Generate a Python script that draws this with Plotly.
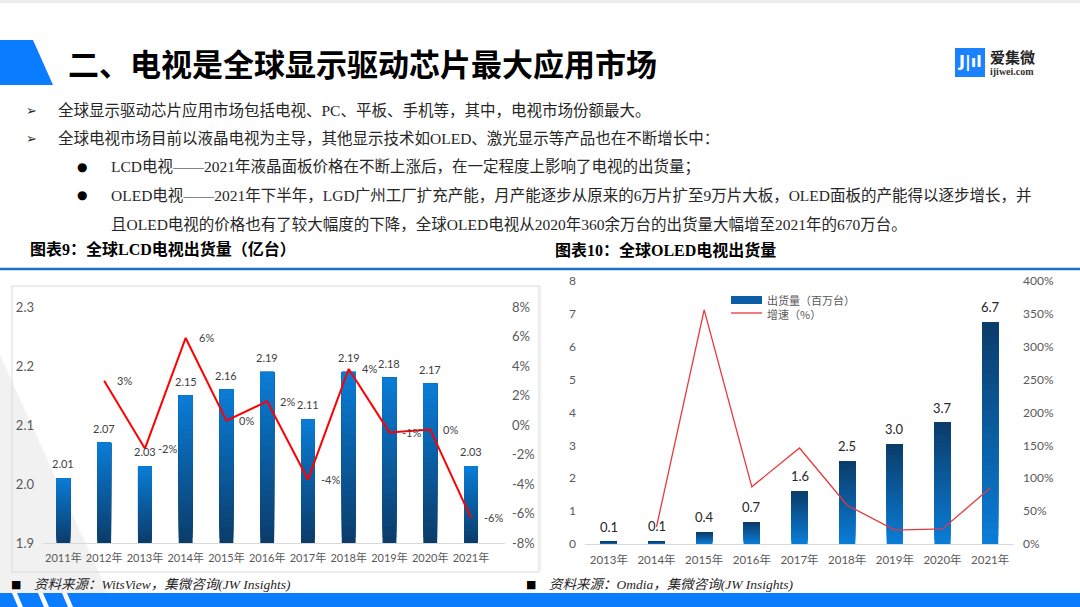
import plotly.graph_objects as go

W, H = 1080, 607

# ---- data: global LCD TV shipments (100M units) ----
lcd_years = ["2011年", "2012年", "2013年", "2014年", "2015年", "2016年",
             "2017年", "2018年", "2019年", "2020年", "2021年"]
lcd_shipments = [2.01, 2.07, 2.03, 2.15, 2.16, 2.19, 2.11, 2.19, 2.18, 2.17, 2.03]
lcd_growth = [None, 3.0, -1.6, 5.9, 0.3, 1.6, -3.7, 3.8, -0.5, -0.3, -6.3]
lcd_growth_labels = ["", "3%", "-2%", "6%", "0%", "2%", "-4%", "4%", "-1%", "0%", "-6%"]
lcd_left_ticks = [1.9, 2.0, 2.1, 2.2, 2.3]
lcd_right_ticks = [-8, -6, -4, -2, 0, 2, 4, 6, 8]

# ---- data: global OLED TV shipments (M units) ----
oled_years = ["2013年", "2014年", "2015年", "2016年", "2017年",
              "2018年", "2019年", "2020年", "2021年"]
oled_shipments = [0.07, 0.08, 0.36, 0.66, 1.61, 2.52, 3.03, 3.69, 6.74]
oled_growth = [None, 26, 356, 87, 146, 59, 21, 23, 85]
oled_left_ticks = [0, 1, 2, 3, 4, 5, 6, 7, 8]
oled_right_ticks = [0, 50, 100, 150, 200, 250, 300, 350, 400]

bullets = [
    "全球显示驱动芯片应用市场包括电视、PC、平板、手机等，其中，电视市场份额最大。",
    "全球电视市场目前以液晶电视为主导，其他显示技术如OLED、激光显示等产品也在不断增长中：",
]
sub_bullets = [
    "LCD电视——2021年液晶面板价格在不断上涨后，在一定程度上影响了电视的出货量；",
    "OLED电视——2021年下半年，LGD广州工厂扩充产能，月产能逐步从原来的6万片扩至9万片大板，OLED面板的产能得以逐步增长，并",
    "且OLED电视的价格也有了较大幅度的下降，全球OLED电视从2020年360余万台的出货量大幅增至2021年的670万台。",
]

BODY_FONT = "Liberation Serif, Noto Sans CJK SC"
CJK = "Noto Sans CJK SC"
CHART_FONT = "Lato, Noto Sans CJK SC"


def px(x):
    return x / W


def py(y):
    return 1 - y / H


def mix(c1, c2, t):
    a = [int(c1[i:i + 2], 16) for i in (1, 3, 5)]
    b = [int(c2[i:i + 2], 16) for i in (1, 3, 5)]
    return "#" + "".join(f"{round(a[i] + (b[i] - a[i]) * t):02x}" for i in range(3))


def gradient_bars(fig, x, values, base, bottom, top, xa, ya, steps=30):
    # full-height bars stacked on top of each other, each one shorter -> vertical gradient
    for k in range(steps):
        t = k / (steps - 1)
        seg = [(v - base) / steps for v in values]
        fig.add_trace(go.Bar(
            x=x,
            y=[(v - base) - s * k for v, s in zip(values, seg)],
            base=[base + s * k for s in seg],
            width=0.34,
            marker=dict(color=mix(bottom, top, t), line=dict(width=0), opacity=1),
            xaxis=xa, yaxis=ya, showlegend=False, hoverinfo="skip",
        ))


fig = go.Figure()

# left chart: LCD
gradient_bars(fig, lcd_years, lcd_shipments, 1.9, "#0b3d6b", "#0a7cd6", "x", "y")
fig.add_trace(go.Scatter(
    x=lcd_years, y=lcd_growth, mode="lines",
    line=dict(color="#ff0000", width=2),
    xaxis="x", yaxis="y2", showlegend=False, hoverinfo="skip",
))

# right chart: OLED
gradient_bars(fig, oled_years, oled_shipments, 0, "#0a7cd6", "#0b3d6b", "x3", "y3")
fig.add_trace(go.Scatter(
    x=oled_years, y=oled_growth, mode="lines",
    line=dict(color="#e8383d", width=1.3),
    xaxis="x3", yaxis="y4", showlegend=False, hoverinfo="skip",
))

annotations = []

# title
annotations.append(dict(
    x=px(66), y=py(62), xref="paper", yref="paper", xanchor="left", yanchor="middle",
    text="<b>二、电视是全球显示驱动芯片最大应用市场</b>", showarrow=False,
    font=dict(family=CJK, size=31, color="#000000"),
))
# logo text
annotations.append(dict(
    x=px(988), y=py(57), xref="paper", yref="paper", xanchor="left", yanchor="middle",
    text="<b>爱集微</b>", showarrow=False,
    font=dict(family="Noto Sans CJK SC", size=15, color="#222222"),
))
annotations.append(dict(
    x=px(988), y=py(72), xref="paper", yref="paper", xanchor="left", yanchor="middle",
    text="<b>ijiwei.com</b>", showarrow=False,
    font=dict(family="Liberation Serif", size=10, color="#333333"),
))
annotations.append(dict(
    x=px(970), y=py(62), xref="paper", yref="paper", xanchor="center", yanchor="middle",
    text="<b>J|ıl</b>", showarrow=False,
    font=dict(family="DejaVu Sans", size=16, color="#ffffff"),
))

# body text
for i, line in enumerate(bullets):
    yy = 110 + i * 28.5
    annotations.append(dict(x=px(24), y=py(yy), xref="paper", yref="paper",
                            xanchor="left", yanchor="middle", text="➢", showarrow=False,
                            font=dict(family="DejaVu Sans", size=13, color="#262626")))
    annotations.append(dict(x=px(56), y=py(yy), xref="paper", yref="paper",
                            xanchor="left", yanchor="middle", text=line, showarrow=False,
                            font=dict(family=BODY_FONT, size=15.5, color="#262626")))
for i, line in enumerate(sub_bullets):
    yy = 167 + i * 28.5
    if i < 2:
        annotations.append(dict(x=px(82), y=py(yy), xref="paper", yref="paper",
                                xanchor="center", yanchor="middle", text="●", showarrow=False,
                                font=dict(family="DejaVu Sans", size=12, color="#000000")))
    annotations.append(dict(x=px(109), y=py(yy), xref="paper", yref="paper",
                            xanchor="left", yanchor="middle", text=line, showarrow=False,
                            font=dict(family=BODY_FONT, size=15.5, color="#262626")))

# chart headers
annotations.append(dict(x=px(28), y=py(249), xref="paper", yref="paper",
                        xanchor="left", yanchor="middle",
                        text="<b>图表9：全球LCD电视出货量（亿台）</b>", showarrow=False,
                        font=dict(family=BODY_FONT, size=16, color="#000000")))
annotations.append(dict(x=px(553), y=py(250), xref="paper", yref="paper",
                        xanchor="left", yanchor="middle",
                        text="<b>图表10：全球OLED电视出货量</b>", showarrow=False,
                        font=dict(family=BODY_FONT, size=16, color="#000000")))

# LCD bar labels
for yr, v in zip(lcd_years, lcd_shipments):
    annotations.append(dict(x=yr, y=v, xref="x", yref="y", xanchor="center", yanchor="bottom",
                            yshift=6, text=f"{v:.2f}", showarrow=False,
                            font=dict(family=CHART_FONT, size=11, color="#404040")))
# LCD growth labels
for yr, g, lab in zip(lcd_years, lcd_growth, lcd_growth_labels):
    if g is None:
        continue
    annotations.append(dict(x=yr, y=g, xref="x", yref="y2", xanchor="left", yanchor="middle",
                            xshift=11, text=lab, showarrow=False,
                            font=dict(family=CHART_FONT, size=11, color="#404040")))
# OLED bar labels
for yr, v in zip(oled_years, oled_shipments):
    annotations.append(dict(x=yr, y=v, xref="x3", yref="y3", xanchor="center", yanchor="bottom",
                            yshift=5, text=f"{v:.1f}", showarrow=False,
                            font=dict(family=CHART_FONT, size=13, color="#262626")))

# OLED legend text (two lines in one block)
annotations.append(dict(x=px(765), y=py(306.5), xref="paper", yref="paper",
                        xanchor="left", yanchor="middle", align="left",
                        text="出货量（百万台）<br>增速（%）", showarrow=False,
                        font=dict(family=CJK, size=11, color="#595959")))

# footers
annotations.append(dict(x=px(16), y=py(584), xref="paper", yref="paper",
                        xanchor="center", yanchor="middle", text="■", showarrow=False,
                        font=dict(family="DejaVu Sans", size=11, color="#000000")))
annotations.append(dict(x=px(32), y=py(584), xref="paper", yref="paper",
                        xanchor="left", yanchor="middle",
                        text="<i>资料来源：WitsView，集微咨询(JW Insights)</i>", showarrow=False,
                        font=dict(family=BODY_FONT, size=13.5, color="#262626")))
annotations.append(dict(x=px(531), y=py(584), xref="paper", yref="paper",
                        xanchor="center", yanchor="middle", text="■", showarrow=False,
                        font=dict(family="DejaVu Sans", size=11, color="#000000")))
annotations.append(dict(x=px(547), y=py(584), xref="paper", yref="paper",
                        xanchor="left", yanchor="middle",
                        text="<i>资料来源：Omdia，集微咨询(JW Insights)</i>", showarrow=False,
                        font=dict(family=BODY_FONT, size=13.5, color="#262626")))

shapes = [
    # top thin grey strip
    dict(type="rect", xref="paper", yref="paper", x0=0, x1=1, y0=py(3), y1=1,
         fillcolor="#ededed", line=dict(width=0), layer="below"),
    # blue title tab
    dict(type="path", xref="paper", yref="paper",
         path=f"M 0 {py(40)} L {px(33)} {py(40)} L {px(53)} {py(85)} L 0 {py(85)} Z",
         fillcolor="#0a7cff", line=dict(width=0)),
    # logo square
    dict(type="rect", xref="paper", yref="paper", x0=px(955), x1=px(985), y0=py(77), y1=py(48),
         fillcolor="#1a82ff", line=dict(width=0), layer="below"),
    # separator line
    dict(type="line", xref="paper", yref="paper", x0=0, x1=1, y0=py(269), y1=py(269),
         line=dict(color="#1b6fc6", width=2.5)),
    # grey wedge behind left chart
    dict(type="path", xref="paper", yref="paper",
         path=f"M 0 {py(355)} L {px(108)} {py(593)} L 0 {py(593)} Z",
         fillcolor="#f1f1f1", line=dict(width=0), layer="below"),
    # left chart frame
    dict(type="rect", xref="paper", yref="paper", x0=px(12), x1=px(539), y0=py(572), y1=py(286),
         fillcolor="rgba(0,0,0,0)", line=dict(color="#d9d9d9", width=1), layer="below"),
    # right chart faint left edge
    dict(type="line", xref="paper", yref="paper", x0=px(541), x1=px(541), y0=py(570), y1=py(285),
         line=dict(color="#eeeeee", width=1), layer="below"),
    # OLED legend swatches
    dict(type="rect", xref="paper", yref="paper", x0=px(731), x1=px(762), y0=py(304), y1=py(296),
         fillcolor="#0b5ea6", line=dict(width=0)),
    dict(type="line", xref="paper", yref="paper", x0=px(731), x1=px(762), y0=py(313), y1=py(313),
         line=dict(color="#e8383d", width=1.3)),
    # bottom blue band
    dict(type="rect", xref="paper", yref="paper", x0=0, x1=1, y0=0, y1=py(593),
         fillcolor="#0a7cff", line=dict(width=0)),
]
for x_top in (12, 38, 62):
    shapes.append(dict(
        type="path", xref="paper", yref="paper",
        path=(f"M {px(x_top)} {py(593)} L {px(x_top + 5)} {py(593)} "
              f"L {px(x_top + 11)} {py(607)} L {px(x_top + 6)} {py(607)} Z"),
        fillcolor="#ffffff", line=dict(width=0),
    ))

tick_font = dict(family=CHART_FONT, size=13, color="#595959")
tick_font_x = dict(family=CHART_FONT, size=11, color="#595959")
tick_font_r = dict(family=CHART_FONT, size=12, color="#595959")
tick_font_rx = dict(family=CHART_FONT, size=11.5, color="#595959")

fig.update_layout(
    width=W, height=H, autosize=False,
    margin=dict(l=0, r=0, t=0, b=0, autoexpand=False),
    paper_bgcolor="#ffffff", plot_bgcolor="rgba(0,0,0,0)",
    barmode="overlay", showlegend=False,
    annotations=annotations, shapes=shapes,
    xaxis=dict(domain=[px(43), px(505)], anchor="y", type="category", automargin=False,
               showline=True, linecolor="#d9d9d9", linewidth=1, tickangle=0,
               showgrid=False, ticks="", tickfont=tick_font_x, ticklabelstandoff=5),
    yaxis=dict(domain=[py(543), py(307)], anchor="x", range=[1.9, 2.3], automargin=False,
               tickvals=lcd_left_ticks, ticktext=[f"{v:.1f}" for v in lcd_left_ticks],
               showgrid=False, zeroline=False,
               showline=False, ticks="", tickfont=tick_font, ticklabelstandoff=8),
    yaxis2=dict(overlaying="y", anchor="x", side="right", range=[-8, 8], automargin=False,
                tickvals=lcd_right_ticks, ticktext=[f"{v}%" for v in lcd_right_ticks],
                showgrid=False, zeroline=False,
                showline=False, ticks="", tickfont=tick_font, ticklabelstandoff=6),
    xaxis3=dict(domain=[px(585), px(1014)], anchor="y3", type="category", automargin=False,
                showline=True, linecolor="#d9d9d9", linewidth=1, tickangle=0,
                showgrid=False, ticks="", tickfont=tick_font_rx, ticklabelstandoff=5),
    yaxis3=dict(domain=[py(544), py(281)], anchor="x3", range=[0, 8], automargin=False,
                tickvals=oled_left_ticks, ticktext=[str(v) for v in oled_left_ticks],
                showgrid=False, zeroline=False,
                showline=False, ticks="", tickfont=tick_font_r, ticklabelstandoff=8),
    yaxis4=dict(overlaying="y3", anchor="x3", side="right", range=[0, 400], automargin=False,
                tickvals=oled_right_ticks, ticktext=[f"{v}%" for v in oled_right_ticks],
                showgrid=False, zeroline=False,
                showline=False, ticks="", tickfont=tick_font_r, ticklabelstandoff=8),
)

fig.write_html(
    "out.html",
    config={"displayModeBar": False},
    post_script="document.body.style.margin='0';document.body.style.overflow='hidden';",
)
